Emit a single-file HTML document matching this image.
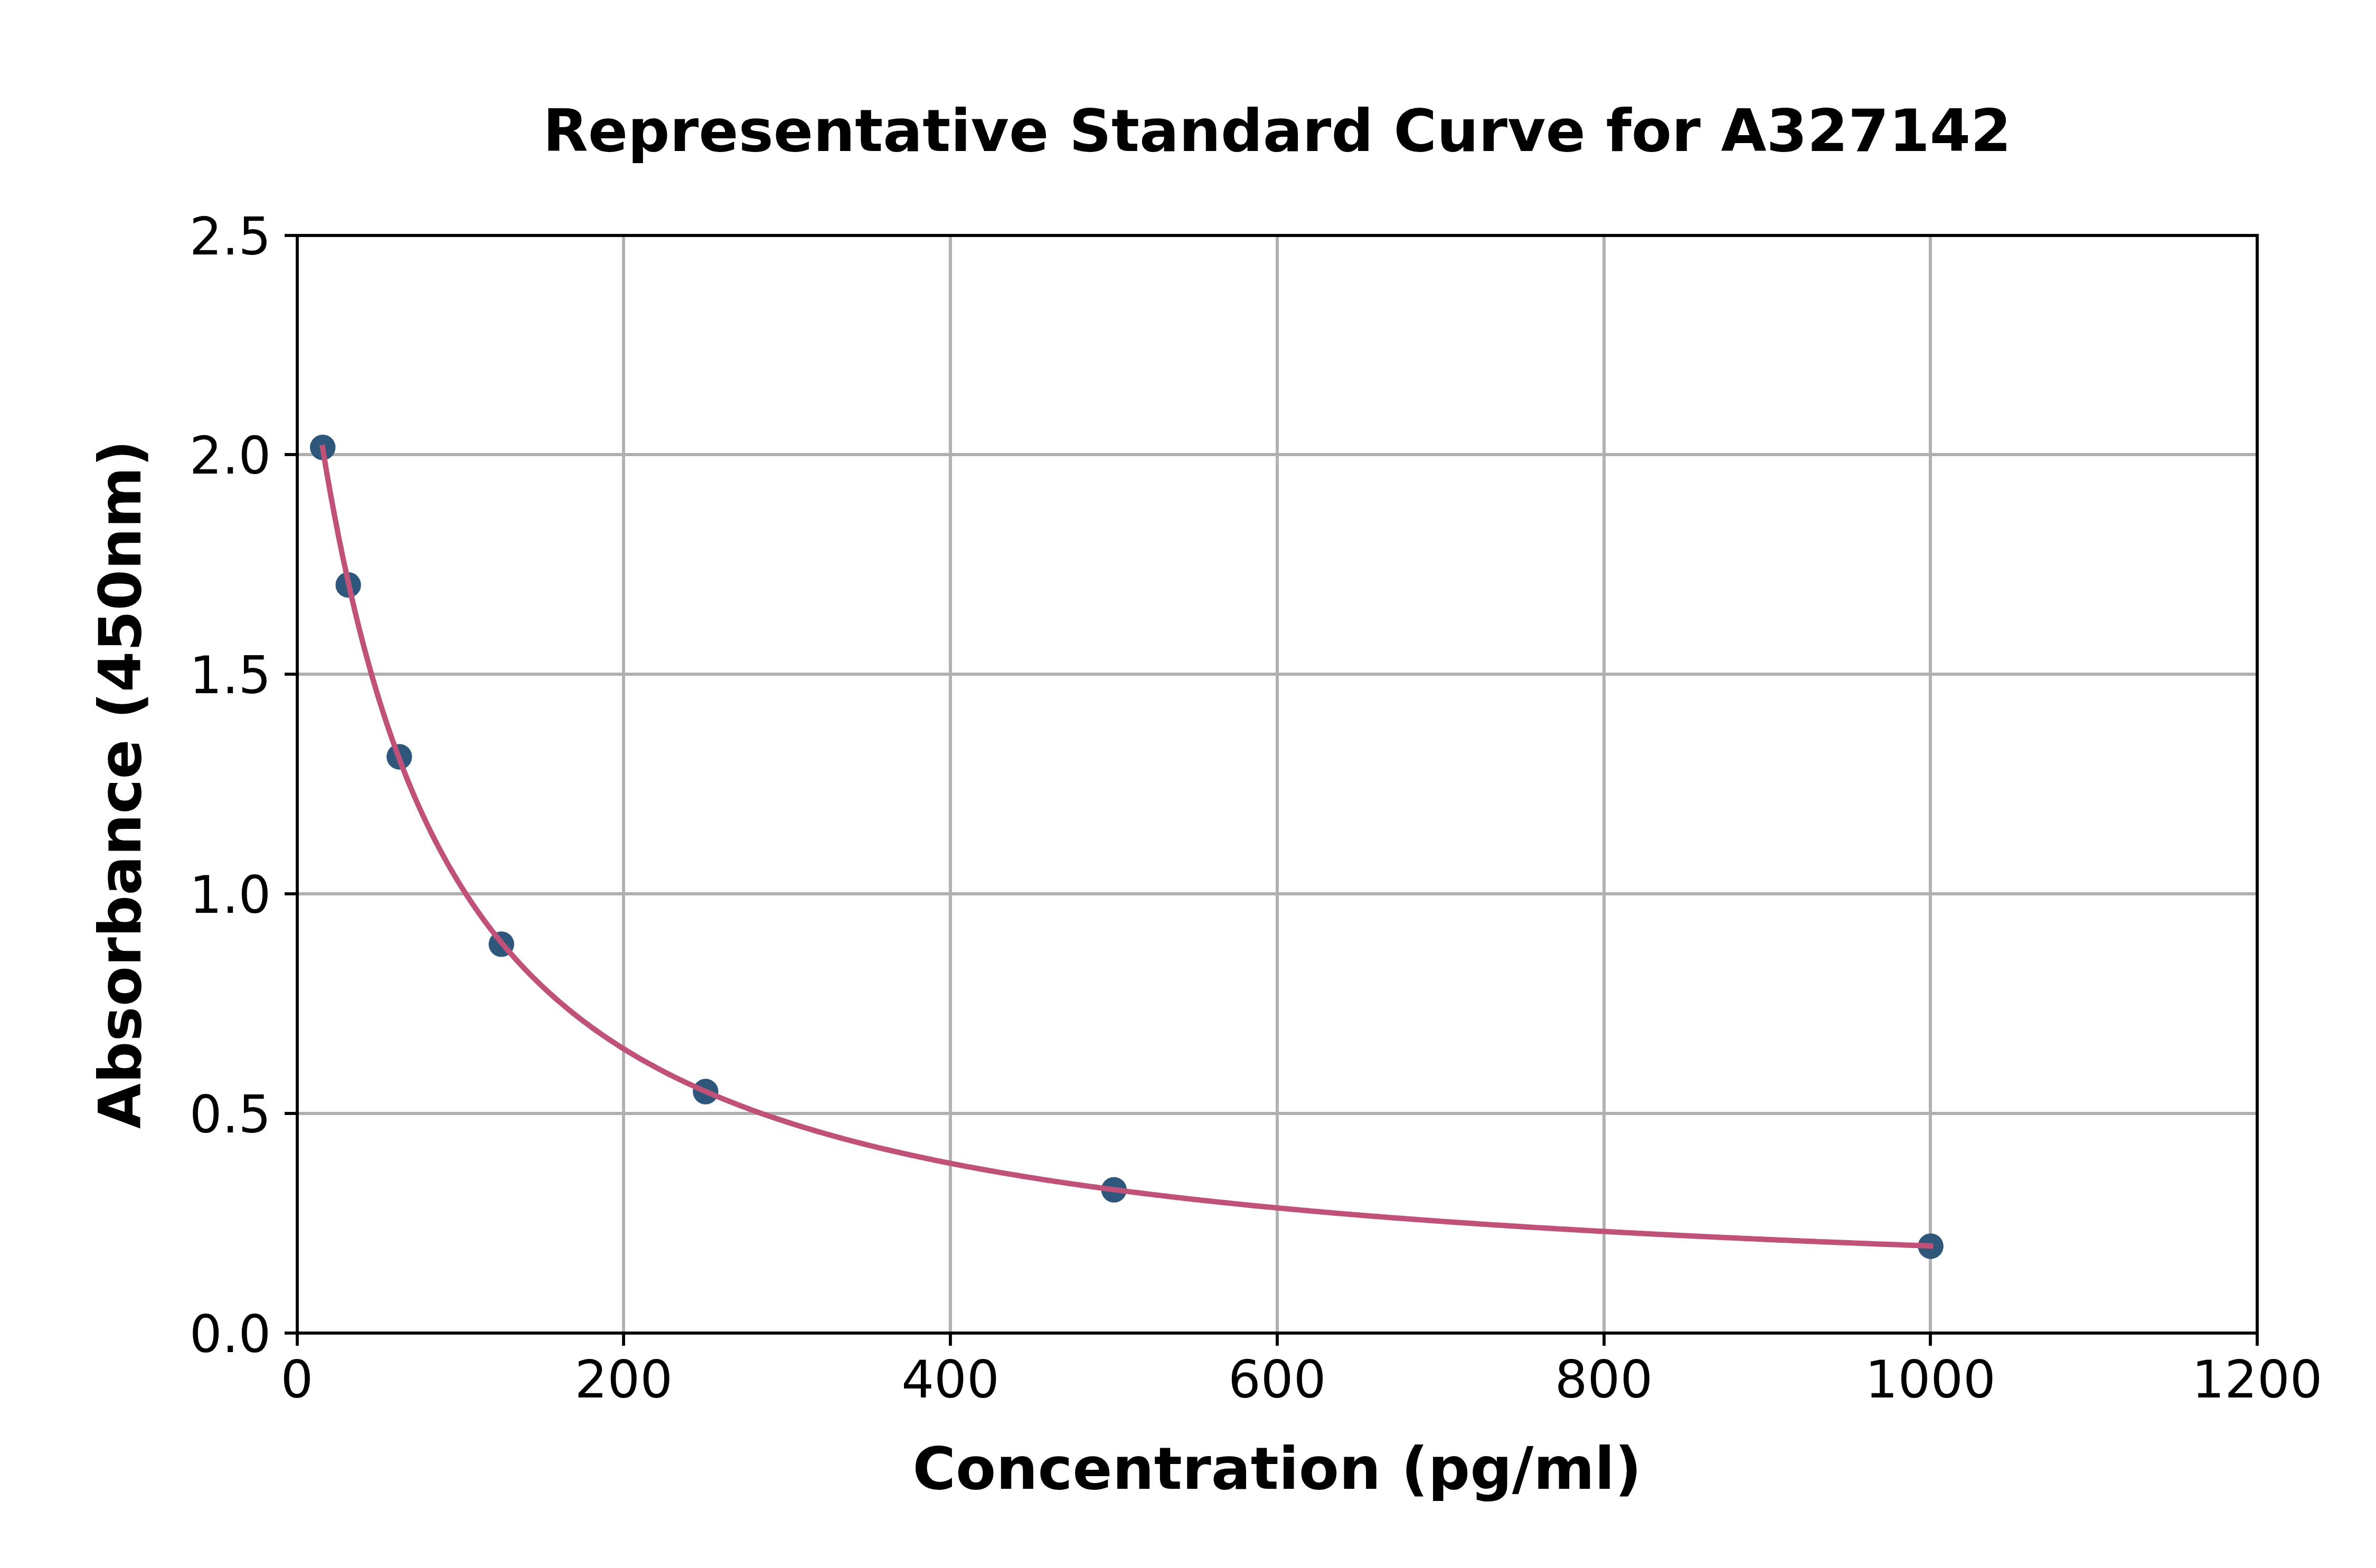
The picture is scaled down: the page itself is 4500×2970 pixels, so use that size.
<!DOCTYPE html>
<html lang="en"><head><meta charset="utf-8"><title>Representative Standard Curve for A327142</title>
<style>
html,body{margin:0;padding:0;background:#fff;}
body{width:4500px;height:2970px;overflow:hidden;}
svg{display:block;}
text{font-family:"DejaVu Sans","Liberation Sans",sans-serif;fill:#000;}
.tk{font-size:97.2px;}
.bl{font-size:111.1px;font-weight:bold;}
</style></head><body>
<svg width="4500" height="2970" viewBox="0 0 4500 2970">
<rect x="0" y="0" width="4500" height="2970" fill="#ffffff"/>
<g stroke="#b0b0b0" stroke-width="5.8" fill="none">
<line x1="1181.0" y1="446.0" x2="1181.0" y2="2525.0"/>
<line x1="1800.0" y1="446.0" x2="1800.0" y2="2525.0"/>
<line x1="2419.0" y1="446.0" x2="2419.0" y2="2525.0"/>
<line x1="3038.0" y1="446.0" x2="3038.0" y2="2525.0"/>
<line x1="3656.0" y1="446.0" x2="3656.0" y2="2525.0"/>
<line x1="563.0" y1="2109.0" x2="4275.0" y2="2109.0"/>
<line x1="563.0" y1="1693.0" x2="4275.0" y2="1693.0"/>
<line x1="563.0" y1="1277.0" x2="4275.0" y2="1277.0"/>
<line x1="563.0" y1="861.0" x2="4275.0" y2="861.0"/>
</g>
<g stroke="#000" stroke-width="5.8" fill="none">
<line x1="563.0" y1="2525.0" x2="563.0" y2="2549.0"/>
<line x1="1181.0" y1="2525.0" x2="1181.0" y2="2549.0"/>
<line x1="1800.0" y1="2525.0" x2="1800.0" y2="2549.0"/>
<line x1="2419.0" y1="2525.0" x2="2419.0" y2="2549.0"/>
<line x1="3038.0" y1="2525.0" x2="3038.0" y2="2549.0"/>
<line x1="3656.0" y1="2525.0" x2="3656.0" y2="2549.0"/>
<line x1="4275.0" y1="2525.0" x2="4275.0" y2="2549.0"/>
<line x1="563.0" y1="2525.0" x2="539.0" y2="2525.0"/>
<line x1="563.0" y1="2109.0" x2="539.0" y2="2109.0"/>
<line x1="563.0" y1="1693.0" x2="539.0" y2="1693.0"/>
<line x1="563.0" y1="1277.0" x2="539.0" y2="1277.0"/>
<line x1="563.0" y1="861.0" x2="539.0" y2="861.0"/>
<line x1="563.0" y1="446.0" x2="539.0" y2="446.0"/>
</g>
<g fill="#2f567b">
<circle cx="611.24" cy="847.36" r="24.2"/>
<circle cx="659.58" cy="1107.90" r="24.2"/>
<circle cx="756.26" cy="1433.47" r="24.2"/>
<circle cx="949.62" cy="1788.40" r="24.2"/>
<circle cx="1336.34" cy="2067.57" r="24.2"/>
<circle cx="2109.78" cy="2253.60" r="24.2"/>
<circle cx="3656.65" cy="2360.46" r="24.2"/>
</g>
<polyline points="610.84,847.81 618.47,893.13 626.11,936.30 633.74,977.42 641.37,1016.61 649.00,1053.98 656.64,1089.65 664.27,1123.70 671.90,1156.25 679.53,1187.37 687.17,1217.16 694.80,1245.68 702.43,1273.02 710.06,1299.24 717.70,1324.40 725.33,1348.57 732.96,1371.79 740.59,1394.13 748.23,1415.63 755.86,1436.33 763.49,1456.27 771.12,1475.50 778.76,1494.05 786.39,1511.95 794.02,1529.24 801.66,1545.94 809.29,1562.10 816.92,1577.72 824.55,1592.84 832.19,1607.47 839.82,1621.65 847.45,1635.39 855.08,1648.71 862.72,1661.64 870.35,1674.17 877.98,1686.35 885.61,1698.17 893.25,1709.65 900.88,1720.81 908.51,1731.67 916.14,1742.22 923.78,1752.49 931.41,1762.49 939.04,1772.22 946.67,1781.70 954.31,1790.93 961.94,1799.93 969.57,1808.71 977.20,1817.26 984.84,1825.61 992.47,1833.75 1000.10,1841.70 1007.74,1849.46 1015.37,1857.04 1023.00,1864.44 1030.63,1871.67 1038.27,1878.74 1045.90,1885.64 1053.53,1892.40 1061.16,1899.00 1068.80,1905.47 1076.43,1911.79 1084.06,1917.98 1091.69,1924.04 1099.33,1929.97 1106.96,1935.78 1114.59,1941.46 1122.22,1947.04 1129.86,1952.50 1137.49,1957.85 1145.12,1963.10 1152.75,1968.24 1160.39,1973.29 1168.02,1978.24 1175.65,1983.09 1183.29,1987.85 1190.92,1992.53 1198.55,1997.11 1206.18,2001.62 1213.82,2006.04 1221.45,2010.38 1229.08,2014.64 1236.71,2018.83 1244.35,2022.94 1251.98,2026.99 1259.61,2030.96 1267.24,2034.86 1274.88,2038.70 1282.51,2042.47 1290.14,2046.19 1297.77,2049.83 1305.41,2053.42 1313.04,2056.95 1320.67,2060.42 1328.30,2063.84 1335.94,2067.20 1343.57,2070.51 1351.20,2073.77 1358.84,2076.97 1366.47,2080.13 1374.10,2083.24 1381.73,2086.30 1389.37,2089.31 1397.00,2092.28 1404.63,2095.21 1412.26,2098.09 1419.90,2100.93 1427.53,2103.72 1435.16,2106.48 1442.79,2109.19 1450.43,2111.87 1458.06,2114.51 1465.69,2117.11 1473.32,2119.68 1480.96,2122.21 1488.59,2124.70 1496.22,2127.17 1503.85,2129.59 1511.49,2131.99 1519.12,2134.35 1526.75,2136.68 1534.39,2138.98 1542.02,2141.25 1549.65,2143.48 1557.28,2145.69 1564.92,2147.87 1572.55,2150.03 1580.18,2152.15 1587.81,2154.25 1595.45,2156.32 1603.08,2158.37 1610.71,2160.39 1618.34,2162.38 1625.98,2164.35 1633.61,2166.30 1641.24,2168.22 1648.87,2170.12 1656.51,2171.99 1664.14,2173.85 1671.77,2175.68 1679.40,2177.49 1687.04,2179.28 1694.67,2181.04 1702.30,2182.79 1709.94,2184.52 1717.57,2186.22 1725.20,2187.91 1732.83,2189.58 1740.47,2191.22 1748.10,2192.85 1755.73,2194.47 1763.36,2196.06 1771.00,2197.64 1778.63,2199.19 1786.26,2200.74 1793.89,2202.26 1801.53,2203.77 1809.16,2205.26 1816.79,2206.74 1824.42,2208.20 1832.06,2209.64 1839.69,2211.07 1847.32,2212.48 1854.95,2213.88 1862.59,2215.27 1870.22,2216.64 1877.85,2217.99 1885.49,2219.33 1893.12,2220.66 1900.75,2221.98 1908.38,2223.28 1916.02,2224.57 1923.65,2225.84 1931.28,2227.10 1938.91,2228.35 1946.55,2229.59 1954.18,2230.82 1961.81,2232.03 1969.44,2233.23 1977.08,2234.42 1984.71,2235.60 1992.34,2236.77 1999.97,2237.92 2007.61,2239.07 2015.24,2240.20 2022.87,2241.33 2030.50,2242.44 2038.14,2243.54 2045.77,2244.64 2053.40,2245.72 2061.04,2246.79 2068.67,2247.85 2076.30,2248.90 2083.93,2249.95 2091.57,2250.98 2099.20,2252.01 2106.83,2253.02 2114.46,2254.03 2122.10,2255.02 2129.73,2256.01 2137.36,2256.99 2144.99,2257.96 2152.63,2258.92 2160.26,2259.88 2167.89,2260.82 2175.52,2261.76 2183.16,2262.69 2190.79,2263.61 2198.42,2264.53 2206.05,2265.43 2213.69,2266.33 2221.32,2267.22 2228.95,2268.10 2236.59,2268.98 2244.22,2269.85 2251.85,2270.71 2259.48,2271.56 2267.12,2272.41 2274.75,2273.25 2282.38,2274.08 2290.01,2274.91 2297.65,2275.73 2305.28,2276.54 2312.91,2277.35 2320.54,2278.15 2328.18,2278.94 2335.81,2279.73 2343.44,2280.51 2351.07,2281.29 2358.71,2282.05 2366.34,2282.82 2373.97,2283.57 2381.60,2284.33 2389.24,2285.07 2396.87,2285.81 2404.50,2286.54 2412.14,2287.27 2419.77,2288.00 2427.40,2288.71 2435.03,2289.42 2442.67,2290.13 2450.30,2290.83 2457.93,2291.53 2465.56,2292.22 2473.20,2292.90 2480.83,2293.58 2488.46,2294.26 2496.09,2294.93 2503.73,2295.60 2511.36,2296.26 2518.99,2296.91 2526.62,2297.56 2534.26,2298.21 2541.89,2298.85 2549.52,2299.49 2557.15,2300.12 2564.79,2300.75 2572.42,2301.37 2580.05,2301.99 2587.69,2302.61 2595.32,2303.22 2602.95,2303.82 2610.58,2304.43 2618.22,2305.02 2625.85,2305.62 2633.48,2306.21 2641.11,2306.79 2648.75,2307.37 2656.38,2307.95 2664.01,2308.52 2671.64,2309.09 2679.28,2309.66 2686.91,2310.22 2694.54,2310.78 2702.17,2311.33 2709.81,2311.88 2717.44,2312.43 2725.07,2312.98 2732.70,2313.52 2740.34,2314.05 2747.97,2314.58 2755.60,2315.11 2763.23,2315.64 2770.87,2316.16 2778.50,2316.68 2786.13,2317.20 2793.77,2317.71 2801.40,2318.22 2809.03,2318.72 2816.66,2319.23 2824.30,2319.72 2831.93,2320.22 2839.56,2320.71 2847.19,2321.20 2854.83,2321.69 2862.46,2322.17 2870.09,2322.65 2877.72,2323.13 2885.36,2323.61 2892.99,2324.08 2900.62,2324.55 2908.25,2325.01 2915.89,2325.48 2923.52,2325.94 2931.15,2326.39 2938.78,2326.85 2946.42,2327.30 2954.05,2327.75 2961.68,2328.20 2969.32,2328.64 2976.95,2329.08 2984.58,2329.52 2992.21,2329.96 2999.85,2330.39 3007.48,2330.82 3015.11,2331.25 3022.74,2331.67 3030.38,2332.10 3038.01,2332.52 3045.64,2332.93 3053.27,2333.35 3060.91,2333.76 3068.54,2334.17 3076.17,2334.58 3083.80,2334.99 3091.44,2335.39 3099.07,2335.79 3106.70,2336.19 3114.33,2336.59 3121.97,2336.99 3129.60,2337.38 3137.23,2337.77 3144.87,2338.16 3152.50,2338.54 3160.13,2338.93 3167.76,2339.31 3175.40,2339.69 3183.03,2340.06 3190.66,2340.44 3198.29,2340.81 3205.93,2341.18 3213.56,2341.55 3221.19,2341.92 3228.82,2342.28 3236.46,2342.65 3244.09,2343.01 3251.72,2343.37 3259.35,2343.72 3266.99,2344.08 3274.62,2344.43 3282.25,2344.78 3289.88,2345.13 3297.52,2345.48 3305.15,2345.83 3312.78,2346.17 3320.42,2346.51 3328.05,2346.85 3335.68,2347.19 3343.31,2347.53 3350.95,2347.86 3358.58,2348.19 3366.21,2348.53 3373.84,2348.86 3381.48,2349.18 3389.11,2349.51 3396.74,2349.83 3404.37,2350.16 3412.01,2350.48 3419.64,2350.80 3427.27,2351.12 3434.90,2351.43 3442.54,2351.75 3450.17,2352.06 3457.80,2352.37 3465.43,2352.68 3473.07,2352.99 3480.70,2353.30 3488.33,2353.60 3495.97,2353.91 3503.60,2354.21 3511.23,2354.51 3518.86,2354.81 3526.50,2355.11 3534.13,2355.40 3541.76,2355.70 3549.39,2355.99 3557.03,2356.28 3564.66,2356.57 3572.29,2356.86 3579.92,2357.15 3587.56,2357.43 3595.19,2357.72 3602.82,2358.00 3610.45,2358.28 3618.09,2358.57 3625.72,2358.84 3633.35,2359.12 3640.98,2359.40 3648.62,2359.67 3656.25,2359.95" fill="none" stroke="#c0527a" stroke-width="10.2" stroke-linecap="square" stroke-linejoin="round"/>
<rect x="563.0" y="446.0" width="3712.0" height="2079.0" fill="none" stroke="#000" stroke-width="5.8" stroke-linejoin="miter"/>
<text class="tk" x="562.50" y="2646.6" text-anchor="middle">0</text>
<text class="tk" x="1181.25" y="2646.6" text-anchor="middle">200</text>
<text class="tk" x="1800.00" y="2646.6" text-anchor="middle">400</text>
<text class="tk" x="2418.75" y="2646.6" text-anchor="middle">600</text>
<text class="tk" x="3037.50" y="2646.6" text-anchor="middle">800</text>
<text class="tk" x="3656.25" y="2646.6" text-anchor="middle">1000</text>
<text class="tk" x="4275.00" y="2646.6" text-anchor="middle">1200</text>
<text class="tk" x="513.4" y="2560.90" text-anchor="end">0.0</text>
<text class="tk" x="513.4" y="2144.90" text-anchor="end">0.5</text>
<text class="tk" x="513.4" y="1728.90" text-anchor="end">1.0</text>
<text class="tk" x="513.4" y="1312.90" text-anchor="end">1.5</text>
<text class="tk" x="513.4" y="896.90" text-anchor="end">2.0</text>
<text class="tk" x="513.4" y="481.90" text-anchor="end">2.5</text>
<text class="bl" x="2418.75" y="286.2" text-anchor="middle">Representative Standard Curve for A327142</text>
<text class="bl" x="2418.75" y="2819.5" text-anchor="middle">Concentration (pg/ml)</text>
<text class="bl" transform="translate(265.7,1485.7) rotate(-90)" text-anchor="middle">Absorbance (450nm)</text>
</svg></body></html>
